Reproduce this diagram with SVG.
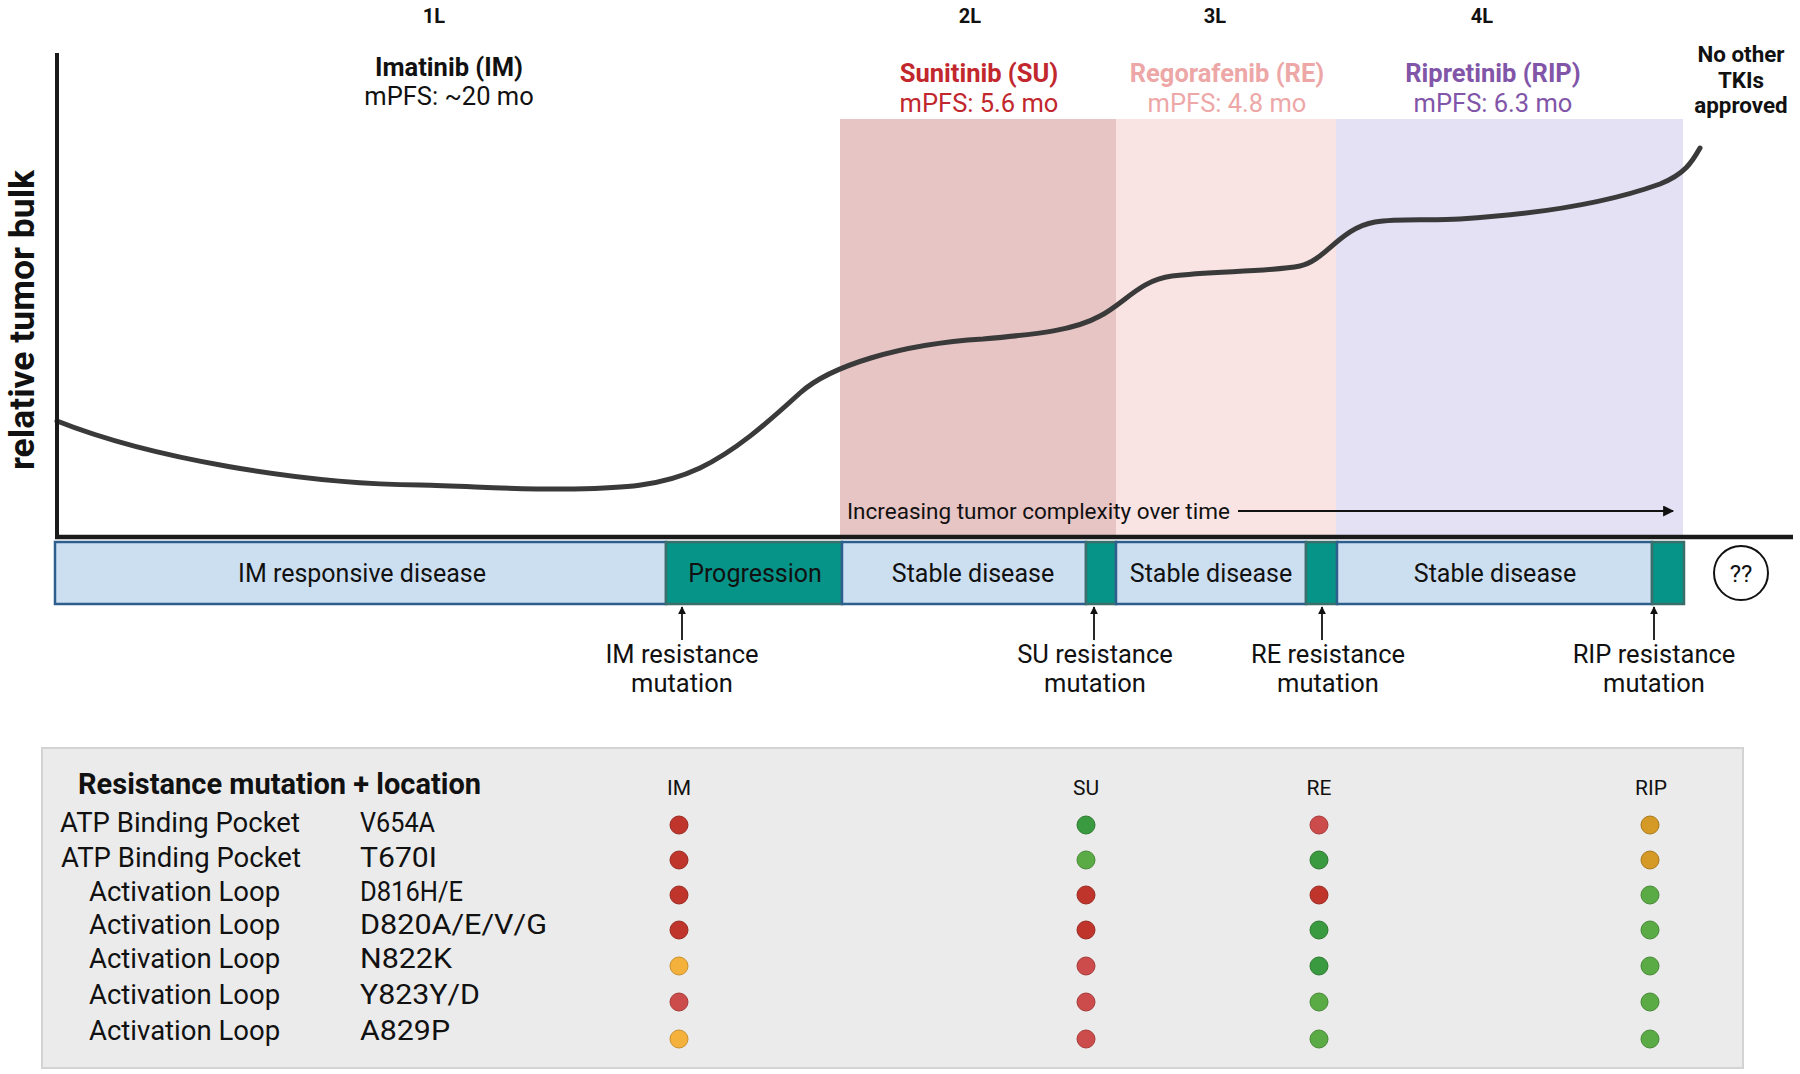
<svg xmlns="http://www.w3.org/2000/svg" width="1800" height="1074" viewBox="0 0 1800 1074">
<style>
  text { font-family: Roboto, "Liberation Sans", sans-serif; fill: #111; }
  .b { font-weight: bold; }
  .line { font-size: 20px; font-weight: bold; text-anchor: middle; }
  .drug { font-size: 25.5px; font-weight: bold; text-anchor: middle; }
  .pfs { font-size: 25.5px; text-anchor: middle; }
  .bar { font-size: 25px; text-anchor: middle; }
  .res { font-size: 25.5px; text-anchor: middle; }
  .blue { fill: #CCDFF0; stroke: #2C5F8D; stroke-width: 2.5; }
  .teal { fill: #079488; stroke: #3B6E6A; stroke-width: 2.5; }
  .loc { font-size: 27.5px; }
  .mut { font-size: 27px; }
  .hdr { font-size: 21px; text-anchor: middle; }
  .conn { stroke: #111; stroke-width: 1.8; fill: none; }
  .dr { fill: #C0352B; stroke: #9a2a22; stroke-width: 1; }
  .lr { fill: #CC4B4B; stroke: #a83a3a; stroke-width: 1; }
  .dg { fill: #3A9A3F; stroke: #2e7a32; stroke-width: 1; }
  .lg { fill: #5AAA45; stroke: #488a37; stroke-width: 1; }
  .yo { fill: #F4B13C; stroke: #c98f2c; stroke-width: 1; }
  .go { fill: #D49A25; stroke: #a8791c; stroke-width: 1; }
</style>
<defs>
  <marker id="ah" viewBox="0 0 10 10" refX="9" refY="5" markerWidth="8" markerHeight="8" markerUnits="userSpaceOnUse" orient="auto">
    <path d="M0,0 L10,5 L0,10 z" fill="#111"/>
  </marker>
  <marker id="ah2" viewBox="0 0 10 10" refX="9" refY="5" markerWidth="12" markerHeight="11" markerUnits="userSpaceOnUse" orient="auto">
    <path d="M0,0 L10,5 L0,10 z" fill="#111"/>
  </marker>
</defs>
<rect width="1800" height="1074" fill="#fff"/>

<!-- therapy bands -->
<g id="bands">
  <rect x="840" y="119" width="276" height="418" fill="#E8C5C5"/>
  <rect x="1116" y="119" width="220" height="418" fill="#F9E3E3"/>
  <rect x="1336" y="119" width="347" height="418" fill="#E4E1F5"/>
</g>

<!-- line labels -->
<g id="line-labels">
  <text class="line" x="434" y="23">1L</text>
  <text class="line" x="970" y="23">2L</text>
  <text class="line" x="1215" y="23">3L</text>
  <text class="line" x="1482" y="23">4L</text>
</g>

<g id="drug-im">
  <text class="drug" x="449" y="76">Imatinib (IM)</text>
  <text class="pfs" x="449" y="105">mPFS: ~20 mo</text>
</g>
<g id="drug-su">
  <text class="drug" x="979" y="82" style="fill:#C1272D">Sunitinib (SU)</text>
  <text class="pfs" x="979" y="112" style="fill:#C1272D">mPFS: 5.6 mo</text>
</g>
<g id="drug-re">
  <text class="drug" x="1227" y="82" style="fill:#EDA7A7">Regorafenib (RE)</text>
  <text class="pfs" x="1227" y="112" style="fill:#EDA7A7">mPFS: 4.8 mo</text>
</g>
<g id="drug-rip">
  <text class="drug" x="1493" y="82" style="fill:#8155A8">Ripretinib (RIP)</text>
  <text class="pfs" x="1493" y="112" style="fill:#8155A8">mPFS: 6.3 mo</text>
</g>
<g id="no-other">
  <text class="b" x="1741" y="62" font-size="22.4" text-anchor="middle">No other</text>
  <text class="b" x="1741" y="88" font-size="22.4" text-anchor="middle">TKIs</text>
  <text class="b" x="1741" y="113" font-size="22.4" text-anchor="middle">approved</text>
</g>

<!-- y-axis label -->
<text class="b" font-size="35.5" text-anchor="middle" transform="translate(34,320) rotate(-90)">relative tumor bulk</text>

<!-- tumor curve -->
<path id="tumor-curve" d="M57,421 C150,458 300,484 420,485 C470,486 520,490 574,489 C620,488 660,487 700,468 C735,451 765,425 800,393 C830,366 900,344 983,339 C1040,334 1075,330 1100,316 C1125,303 1140,280 1172,276 C1210,271 1270,272 1300,266 C1325,261 1340,228 1375,222 C1400,218 1430,221 1460,219 C1540,214 1610,202 1660,184 C1685,174 1692,162 1700,148" fill="none" stroke="#3A3A3A" stroke-width="5" stroke-linecap="round"/>

<!-- axes -->
<g id="axes">
  <line x1="57" y1="53" x2="57" y2="539" stroke="#1a1a1a" stroke-width="4"/>
  <line x1="55" y1="537" x2="1793" y2="537" stroke="#1a1a1a" stroke-width="4.5"/>
</g>

<g id="complexity">
  <text x="847" y="519" font-size="22.5">Increasing tumor complexity over time</text>
</g>

<!-- timeline -->
<g id="timeline">
  <g id="im-responsive"><rect class="blue" x="55" y="542" width="611" height="62"/><text class="bar" x="362" y="582">IM responsive disease</text></g>
  <g id="progression"><rect class="teal" x="666" y="542" width="176" height="62"/><text class="bar" x="755" y="582">Progression</text></g>
  <g id="stable-su"><rect class="blue" x="842" y="542" width="244" height="62"/><text class="bar" x="973" y="582">Stable disease</text></g>
  <g id="prog-su"><rect class="teal" x="1086" y="542" width="30" height="62"/></g>
  <g id="stable-re"><rect class="blue" x="1116" y="542" width="190" height="62"/><text class="bar" x="1211" y="582">Stable disease</text></g>
  <g id="prog-re"><rect class="teal" x="1306" y="542" width="31" height="62"/></g>
  <g id="stable-rip"><rect class="blue" x="1337" y="542" width="315" height="62"/><text class="bar" x="1495" y="582">Stable disease</text></g>
  <g id="prog-rip"><rect class="teal" x="1652" y="542" width="32" height="62"/></g>
  <g id="unknown"><circle cx="1741" cy="573" r="27" fill="#fff" stroke="#111" stroke-width="2"/><text x="1741" y="582" font-size="24" text-anchor="middle">??</text></g>
</g>

<!-- resistance labels -->
<g id="res-im"><text class="res" x="682" y="663">IM resistance</text><text class="res" x="682" y="692">mutation</text></g>
<g id="res-su"><text class="res" x="1095" y="663">SU resistance</text><text class="res" x="1095" y="692">mutation</text></g>
<g id="res-re"><text class="res" x="1328" y="663">RE resistance</text><text class="res" x="1328" y="692">mutation</text></g>
<g id="res-rip"><text class="res" x="1654" y="663">RIP resistance</text><text class="res" x="1654" y="692">mutation</text></g>

<!-- connectors -->
<g id="connectors">
  <line class="conn" x1="682" y1="640" x2="682" y2="607" marker-end="url(#ah)"/>
  <line class="conn" x1="1094" y1="640" x2="1094" y2="607" marker-end="url(#ah)"/>
  <line class="conn" x1="1322" y1="640" x2="1322" y2="607" marker-end="url(#ah)"/>
  <line class="conn" x1="1654" y1="640" x2="1654" y2="607" marker-end="url(#ah)"/>
  <line class="conn" x1="1238" y1="511" x2="1673" y2="511" marker-end="url(#ah2)"/>
</g>

<!-- table -->
<g id="table">
  <rect x="42" y="748" width="1701" height="320" fill="#EBEBEB" stroke="#D3D3D3" stroke-width="2"/>
  <text class="b" x="78" y="794" font-size="29">Resistance mutation + location</text>
  <text class="hdr" x="679" y="795">IM</text>
  <text class="hdr" x="1086" y="795">SU</text>
  <text class="hdr" x="1319" y="795">RE</text>
  <text class="hdr" x="1651" y="795">RIP</text>

  <g id="row-v654a"><text class="loc" x="60" y="832">ATP Binding Pocket</text><text class="mut" x="360" y="832" textLength="75" lengthAdjust="spacingAndGlyphs">V654A</text>
    <circle class="dr" cx="679" cy="825" r="9"/><circle class="dg" cx="1086" cy="825" r="9"/><circle class="lr" cx="1319" cy="825" r="9"/><circle class="go" cx="1650" cy="825" r="9"/></g>
  <g id="row-t670i"><text class="loc" x="61" y="867">ATP Binding Pocket</text><text class="mut" x="360" y="867" textLength="77" lengthAdjust="spacingAndGlyphs">T670I</text>
    <circle class="dr" cx="679" cy="860" r="9"/><circle class="lg" cx="1086" cy="860" r="9"/><circle class="dg" cx="1319" cy="860" r="9"/><circle class="go" cx="1650" cy="860" r="9"/></g>
  <g id="row-d816"><text class="loc" x="89" y="901">Activation Loop</text><text class="mut" x="360" y="901" textLength="103" lengthAdjust="spacingAndGlyphs">D816H/E</text>
    <circle class="dr" cx="679" cy="895" r="9"/><circle class="dr" cx="1086" cy="895" r="9"/><circle class="dr" cx="1319" cy="895" r="9"/><circle class="lg" cx="1650" cy="895" r="9"/></g>
  <g id="row-d820"><text class="loc" x="89" y="934">Activation Loop</text><text class="mut" x="360" y="934" textLength="187" lengthAdjust="spacingAndGlyphs">D820A/E/V/G</text>
    <circle class="dr" cx="679" cy="930" r="9"/><circle class="dr" cx="1086" cy="930" r="9"/><circle class="dg" cx="1319" cy="930" r="9"/><circle class="lg" cx="1650" cy="930" r="9"/></g>
  <g id="row-n822k"><text class="loc" x="89" y="968">Activation Loop</text><text class="mut" x="360" y="968" textLength="92" lengthAdjust="spacingAndGlyphs">N822K</text>
    <circle class="yo" cx="679" cy="966" r="9"/><circle class="lr" cx="1086" cy="966" r="9"/><circle class="dg" cx="1319" cy="966" r="9"/><circle class="lg" cx="1650" cy="966" r="9"/></g>
  <g id="row-y823"><text class="loc" x="89" y="1004">Activation Loop</text><text class="mut" x="360" y="1004" textLength="120" lengthAdjust="spacingAndGlyphs">Y823Y/D</text>
    <circle class="lr" cx="679" cy="1002" r="9"/><circle class="lr" cx="1086" cy="1002" r="9"/><circle class="lg" cx="1319" cy="1002" r="9"/><circle class="lg" cx="1650" cy="1002" r="9"/></g>
  <g id="row-a829p"><text class="loc" x="89" y="1040">Activation Loop</text><text class="mut" x="360" y="1040" textLength="90" lengthAdjust="spacingAndGlyphs">A829P</text>
    <circle class="yo" cx="679" cy="1039" r="9"/><circle class="lr" cx="1086" cy="1039" r="9"/><circle class="lg" cx="1319" cy="1039" r="9"/><circle class="lg" cx="1650" cy="1039" r="9"/></g>
</g>
</svg>
